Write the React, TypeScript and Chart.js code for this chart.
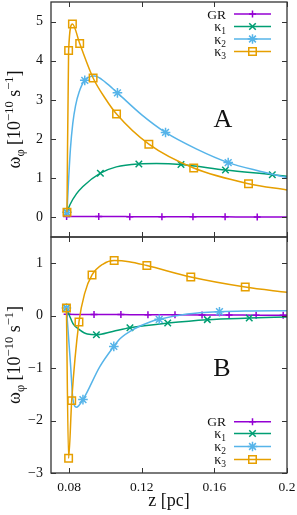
import React, { useEffect, useRef } from 'react';
import { Chart, registerables } from 'chart.js';

Chart.register(...registerables);

// ---------- data ----------
const SERIES_NAMES = ['GR', 'κ1', 'κ2', 'κ3'];
const X_TICKS = [0.08, 0.12, 0.16, 0.2];
const X_TICK_LABELS = ['0.08', '0.12', '0.16', '0.2'];
const YA_TICKS = [0, 1, 2, 3, 4, 5];
const YB_TICKS = [-3, -2, -1, 0, 1];

// Panel A (z in pc, omega in 1e-10 s^-1); M = 1 where a marker is drawn
const A_GR_Z = [0.0786, 0.0963, 0.1134, 0.1311, 0.1482, 0.1659, 0.1836, 0.2];
const A_GR_W = [0.025, 0.022, 0.02, 0.018, 0.016, 0.014, 0.012, 0.01];
const A_GR_M = [1, 1, 1, 1, 1, 1, 1, 0];

const A_K1_Z = [0.0788, 0.0805, 0.084, 0.0876, 0.0972, 0.106, 0.1184, 0.128, 0.1416, 0.1661, 0.1919, 0.2];
const A_K1_W = [0.13, 0.33, 0.6, 0.79, 1.13, 1.29, 1.365, 1.375, 1.35, 1.21, 1.09, 1.05];
const A_K1_M = [1, 0, 0, 0, 1, 0, 1, 0, 1, 1, 1, 0];

const A_K2_Z = [0.0788, 0.0798, 0.0807, 0.082, 0.0835, 0.0855, 0.0886, 0.094, 0.1, 0.1066, 0.12, 0.1331, 0.15, 0.1676, 0.185, 0.2];
const A_K2_W = [0.13, 1.05, 1.75, 2.4, 2.85, 3.2, 3.5, 3.61, 3.45, 3.18, 2.62, 2.17, 1.75, 1.4, 1.18, 1.02];
const A_K2_M = [1, 0, 0, 0, 0, 0, 1, 0, 0, 1, 0, 1, 0, 1, 0, 0];

const A_K3_Z = [0.0788, 0.0797, 0.0818, 0.0858, 0.0932, 0.1, 0.1061, 0.1239, 0.1486, 0.1788, 0.2];
const A_K3_W = [0.13, 4.26, 4.94, 4.44, 3.56, 3.03, 2.64, 1.87, 1.26, 0.86, 0.7];
const A_K3_M = [1, 1, 1, 1, 1, 0, 1, 1, 1, 1, 0];

// Panel B
const B_GR_Z = [0.0789, 0.0937, 0.1085, 0.1234, 0.1383, 0.1532, 0.1681, 0.183, 0.1979, 0.2];
const B_GR_W = [0.025, 0.022, 0.02, 0.018, 0.016, 0.014, 0.012, 0.01, 0.008, 0.008];
const B_GR_M = [1, 1, 1, 1, 1, 1, 1, 1, 1, 0];

const B_K1_Z = [0.0785, 0.0802, 0.0821, 0.0858, 0.09, 0.095, 0.104, 0.1135, 0.1343, 0.1561, 0.1792, 0.2];
const B_K1_W = [0.145, 0.0, -0.15, -0.27, -0.35, -0.363, -0.3, -0.23, -0.141, -0.076, -0.046, -0.026];
const B_K1_M = [1, 0, 0, 0, 0, 1, 0, 1, 1, 1, 1, 0];

const B_K2_Z = [0.0785, 0.0807, 0.0821, 0.084, 0.0876, 0.0969, 0.1046, 0.108, 0.116, 0.1245, 0.1296, 0.145, 0.1628, 0.18, 0.2];
const B_K2_W = [0.145, -0.9, -1.6, -1.745, -1.6, -0.97, -0.586, -0.44, -0.25, -0.12, -0.07, 0.03, 0.076, 0.09, 0.095];
const B_K2_M = [1, 0, 0, 0, 1, 0, 1, 0, 0, 0, 1, 0, 1, 0, 0];

const B_K3_Z = [0.0785, 0.0797, 0.0814, 0.0854, 0.0886, 0.0926, 0.0987, 0.1048, 0.113, 0.1228, 0.147, 0.177, 0.2];
const B_K3_W = [0.145, -2.72, -1.62, -0.12, 0.43, 0.776, 0.985, 1.05, 1.03, 0.955, 0.737, 0.546, 0.445];
const B_K3_M = [1, 1, 1, 1, 0, 1, 0, 1, 0, 1, 1, 1, 0];

// ---------- styles ----------
const FONT = "'Liberation Serif', 'DejaVu Serif', serif";
const COLORS = ['#9400d3', '#009e73', '#56b4e9', '#e69f00'];
const STYLES = ['cross', 'crossRot', 'star', 'rect'];
const RADII = [3.5, 4.6, 4.8, 5.3];
const AXIS_COLOR = '#333';

type Seg = { t: string; s: number; dy: number };

function drawSegs(ctx: CanvasRenderingContext2D, segs: Seg[], x: number, y: number, align: string) {
  let total = 0;
  const widths: number[] = [];
  for (const g of segs) {
    ctx.font = `${g.s}px ${FONT}`;
    const w = ctx.measureText(g.t).width;
    widths.push(w);
    total += w;
  }
  let cx = align === 'left' ? x : align === 'center' ? x - total / 2 : x - total;
  ctx.textAlign = 'left';
  ctx.textBaseline = 'alphabetic';
  segs.forEach((g, i) => {
    ctx.font = `${g.s}px ${FONT}`;
    ctx.fillText(g.t, cx, y + g.dy);
    cx += widths[i];
  });
}

function drawMarker(ctx: CanvasRenderingContext2D, idx: number, x: number, y: number) {
  const r = RADII[idx];
  ctx.beginPath();
  if (idx === 0) {
    ctx.moveTo(x, y - r); ctx.lineTo(x, y + r);
    ctx.moveTo(x - r, y); ctx.lineTo(x + r, y);
  } else if (idx === 1) {
    const d = r * Math.SQRT1_2;
    ctx.moveTo(x - d, y - d); ctx.lineTo(x + d, y + d);
    ctx.moveTo(x - d, y + d); ctx.lineTo(x + d, y - d);
  } else if (idx === 2) {
    const d = r * Math.SQRT1_2;
    ctx.moveTo(x, y - r); ctx.lineTo(x, y + r);
    ctx.moveTo(x - r, y); ctx.lineTo(x + r, y);
    ctx.moveTo(x - d, y - d); ctx.lineTo(x + d, y + d);
    ctx.moveTo(x - d, y + d); ctx.lineTo(x + d, y - d);
  } else {
    const s = r * Math.SQRT1_2;
    ctx.rect(x - s, y - s, 2 * s, 2 * s);
  }
  ctx.stroke();
}

type PanelCfg = {
  series: { z: number[]; w: number[]; m: number[] }[];
  yMin: number;
  yMax: number;
  yTicks: number[];
  showX: boolean;
  padding: { top: number; bottom: number; left: number; right: number };
  legendY: number[];
  letter: string;
  letterPos: [number, number];
};

const fmtY = (v: number) => (v < 0 ? '−' + Math.abs(v) : String(v));

function makeChart(canvas: HTMLCanvasElement, cfg: PanelCfg) {
  const datasets = cfg.series.map((s, i) => ({
    label: SERIES_NAMES[i],
    data: s.z.map((z, k) => ({ x: z, y: s.w[k] })),
    showLine: true,
    borderColor: COLORS[i],
    backgroundColor: 'rgba(0,0,0,0)',
    borderWidth: 1.5,
    tension: 0.4,
    cubicInterpolationMode: 'monotone' as const,
    pointStyle: STYLES[i],
    pointRadius: s.m.map((f) => (f ? RADII[i] : 0)),
    pointHoverRadius: 0,
    pointBorderWidth: 1.5,
    pointBorderColor: COLORS[i],
    pointBackgroundColor: 'rgba(0,0,0,0)',
    order: 3 - i,
  }));

  const overlay = {
    id: 'overlay',
    afterDraw(chart: any) {
      const ctx: CanvasRenderingContext2D = chart.ctx;
      const { left, right, top, bottom } = chart.chartArea;
      const xs = chart.scales.x;
      const ys = chart.scales.y;
      ctx.save();
      // frame
      ctx.strokeStyle = AXIS_COLOR;
      ctx.lineWidth = 1.3;
      ctx.strokeRect(left, top, right - left, bottom - top);
      // inward ticks on all sides
      ctx.lineWidth = 1;
      ctx.beginPath();
      const tl = 5;
      for (const v of X_TICKS) {
        const px = Math.round(xs.getPixelForValue(v)) + 0.5;
        ctx.moveTo(px, bottom); ctx.lineTo(px, bottom - tl);
        ctx.moveTo(px, top); ctx.lineTo(px, top + tl);
      }
      for (const v of cfg.yTicks) {
        const py = Math.round(ys.getPixelForValue(v)) + 0.5;
        ctx.moveTo(left, py); ctx.lineTo(left + tl, py);
        ctx.moveTo(right, py); ctx.lineTo(right - tl, py);
      }
      ctx.stroke();

      // y axis title (rotated, with sub/superscripts)
      ctx.fillStyle = '#111';
      ctx.save();
      ctx.translate(20, (top + bottom) / 2);
      ctx.rotate(-Math.PI / 2);
      drawSegs(
        ctx,
        [
          { t: 'ω', s: 18, dy: 0 },
          { t: 'φ', s: 12.5, dy: 3.5 },
          { t: ' [10', s: 18, dy: 0 },
          { t: '−10', s: 12.5, dy: -7 },
          { t: ' s', s: 18, dy: 0 },
          { t: '−1', s: 12.5, dy: -7 },
          { t: ']', s: 18, dy: 0 },
        ],
        0,
        0,
        'center'
      );
      ctx.restore();

      // panel letter
      ctx.font = `26px ${FONT}`;
      ctx.textAlign = 'center';
      ctx.textBaseline = 'middle';
      ctx.fillText(cfg.letter, cfg.letterPos[0], cfg.letterPos[1]);

      // legend
      const textRight = 226;
      const x0 = 234;
      const x1 = 271;
      cfg.legendY.forEach((ly, i) => {
        ctx.fillStyle = '#111';
        const name = SERIES_NAMES[i];
        const segs: Seg[] =
          name.length > 1 && name[0] === 'κ'
            ? [
                { t: 'κ', s: 14, dy: 0 },
                { t: name.slice(1), s: 9.5, dy: 3 },
              ]
            : [{ t: name, s: 13.5, dy: 0 }];
        drawSegs(ctx, segs, textRight, ly + 4.5, 'right');
        ctx.strokeStyle = COLORS[i];
        ctx.lineWidth = 1.5;
        ctx.beginPath();
        ctx.moveTo(x0, ly);
        ctx.lineTo(x1, ly);
        ctx.stroke();
        drawMarker(ctx, i, (x0 + x1) / 2, ly);
      });
      ctx.restore();
    },
  };

  return new Chart(canvas, {
    type: 'scatter',
    data: { datasets: datasets as any },
    plugins: [overlay],
    options: {
      animation: false,
      responsive: false,
      maintainAspectRatio: false,
      devicePixelRatio: 1,
      layout: { padding: cfg.padding, autoPadding: false } as any,
      plugins: { legend: { display: false }, tooltip: { enabled: false }, title: { display: false } },
      events: [],
      scales: {
        x: {
          type: 'linear',
          position: 'bottom',
          min: 0.07,
          max: 0.2,
          display: cfg.showX,
          afterBuildTicks: (s: any) => {
            s.ticks = X_TICKS.map((v) => ({ value: v }));
          },
          afterFit: (s: any) => {
            if (cfg.showX) s.height = 42;
            s.paddingLeft = 0;
            s.paddingRight = 0;
          },
          grid: { display: false, drawTicks: false },
          border: { display: false },
          ticks: {
            padding: 6,
            color: '#111',
            font: { family: FONT, size: 13.5 },
            maxRotation: 0,
            autoSkip: false,
            callback: (v: any) => {
              const i = X_TICKS.findIndex((t) => Math.abs(t - Number(v)) < 1e-9);
              return i >= 0 ? X_TICK_LABELS[i] : '';
            },
          },
          title: {
            display: true,
            text: 'z [pc]',
            color: '#111',
            font: { family: FONT, size: 18 },
            padding: { top: 0, bottom: 3 },
          },
        },
        y: {
          type: 'linear',
          position: 'left',
          min: cfg.yMin,
          max: cfg.yMax,
          afterBuildTicks: (s: any) => {
            s.ticks = cfg.yTicks.map((v) => ({ value: v }));
          },
          afterFit: (s: any) => {
            s.width = 51;
            s.paddingTop = 0;
            s.paddingBottom = 0;
          },
          grid: { display: false, drawTicks: false },
          border: { display: false },
          ticks: {
            padding: 8,
            color: '#111',
            font: { family: FONT, size: 14 },
            autoSkip: false,
            callback: (v: any) => fmtY(Number(v)),
          },
        },
      },
    } as any,
  });
}

const PANEL_A: PanelCfg = {
  series: [
    { z: A_GR_Z, w: A_GR_W, m: A_GR_M },
    { z: A_K1_Z, w: A_K1_W, m: A_K1_M },
    { z: A_K2_Z, w: A_K2_W, m: A_K2_M },
    { z: A_K3_Z, w: A_K3_W, m: A_K3_M },
  ],
  yMin: -0.5,
  yMax: 5.5,
  yTicks: YA_TICKS,
  showX: false,
  padding: { top: 2, bottom: 1, left: 0, right: 10 },
  legendY: [14, 26.5, 39, 51.5],
  letter: 'A',
  letterPos: [223, 120],
};

const PANEL_B: PanelCfg = {
  series: [
    { z: B_GR_Z, w: B_GR_W, m: B_GR_M },
    { z: B_K1_Z, w: B_K1_W, m: B_K1_M },
    { z: B_K2_Z, w: B_K2_W, m: B_K2_M },
    { z: B_K3_Z, w: B_K3_W, m: B_K3_M },
  ],
  yMin: -3,
  yMax: 1.5,
  yTicks: YB_TICKS,
  showX: true,
  padding: { top: 1, bottom: 0, left: 0, right: 10 },
  legendY: [185.7, 197.5, 210.5, 223.5],
  letter: 'B',
  letterPos: [222, 133],
};

export default function App() {
  const refA = useRef<HTMLCanvasElement>(null);
  const refB = useRef<HTMLCanvasElement>(null);
  useEffect(() => {
    const a = makeChart(refA.current!, PANEL_A);
    const b = makeChart(refB.current!, PANEL_B);
    return () => {
      a.destroy();
      b.destroy();
    };
  }, []);
  return (
    <div style={{ position: 'absolute', left: 0, top: 0, width: 297, height: 515, background: '#fff' }}>
      <canvas ref={refA} width={297} height={238} style={{ position: 'absolute', left: 0, top: 0, width: 297, height: 238 }} />
      <canvas ref={refB} width={297} height={279} style={{ position: 'absolute', left: 0, top: 236, width: 297, height: 279 }} />
    </div>
  );
}
